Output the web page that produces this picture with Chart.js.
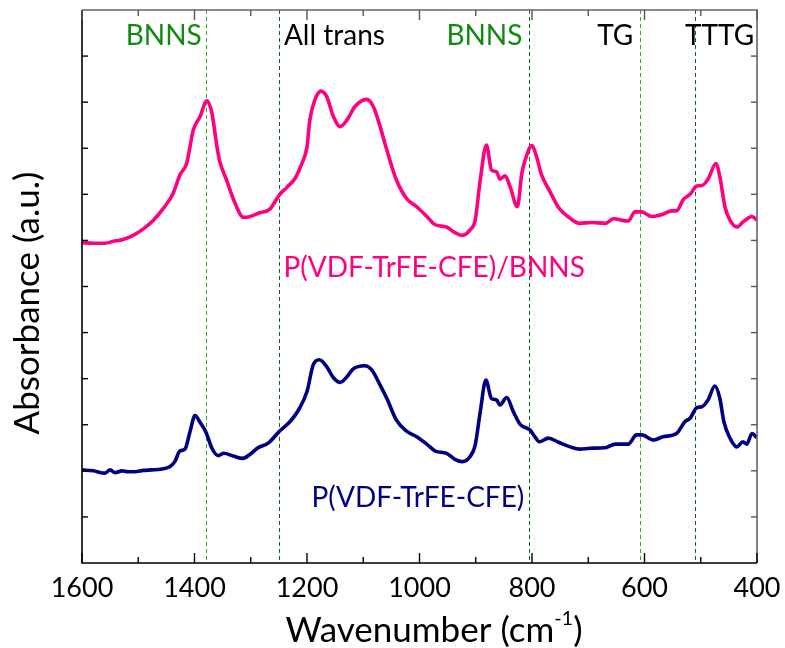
<!DOCTYPE html>
<html><head><meta charset="utf-8">
<script src="https://cdn.jsdelivr.net/npm/chart.js@4.4.1/dist/chart.umd.min.js"></script>
<style>html,body{margin:0;padding:0;background:#fff}</style>
</head><body>
<canvas id="c" width="785" height="648"></canvas>
<script>
// ---- data ----
const wavenumberComposite = [1600,1580,1559,1544,1527,1509,1491,1473,1455,1438,1426,1414,1402,1390,1378,1369,1360,1355,1343,1328,1313,1301,1284,1266,1249,1236,1221,1209,1200,1195,1186,1175,1165,1153,1141,1129,1115,1094,1082,1070,1058,1041,1023,1005,987,972,952,937,925,910,901,892,881,872,863,857,848,839,826,818,812,800,792,783,768,753,732,715,694,670,655,629,617,605,587,567,552,543,531,519,507,498,487,473,466,457,448,436,424,409,400];
const absorbanceComposite = [6.95,6.94,6.94,6.98,7.02,7.11,7.25,7.44,7.70,8.02,8.42,8.67,9.40,9.69,10.03,9.76,9.03,8.71,8.31,7.81,7.50,7.52,7.60,7.68,7.99,8.15,8.35,8.67,9.03,9.61,10.05,10.24,10.12,9.69,9.47,9.61,9.90,10.06,9.90,9.47,8.96,8.31,7.91,7.73,7.52,7.34,7.29,7.17,7.11,7.23,7.44,8.31,9.07,8.53,8.49,8.33,8.40,8.17,7.73,8.46,8.75,9.06,8.82,8.42,8.06,7.72,7.48,7.37,7.39,7.37,7.47,7.42,7.62,7.62,7.52,7.57,7.64,7.64,7.89,8.00,8.18,8.19,8.33,8.67,8.38,7.73,7.44,7.29,7.41,7.52,7.44];
const wavenumberPolymer = [1600,1580,1559,1550,1541,1529,1518,1506,1491,1476,1458,1444,1435,1426,1417,1408,1399,1390,1380,1369,1358,1348,1331,1314,1301,1287,1269,1249,1230,1215,1200,1189,1178,1165,1153,1141,1129,1118,1097,1085,1070,1058,1041,1023,1005,987,972,952,937,924,910,901,892,882,872,863,857,845,833,821,804,795,787,771,753,732,715,697,670,652,629,614,605,584,567,543,528,519,507,498,487,475,466,459,448,436,425,418,409,400];
const absorbancePolymer = [2.02,2.00,1.95,2.02,1.96,2.00,1.98,1.98,2.01,2.02,2.04,2.09,2.20,2.43,2.47,2.85,3.20,3.05,2.85,2.49,2.33,2.38,2.32,2.27,2.36,2.50,2.60,2.86,3.07,3.32,3.72,4.30,4.41,4.26,4.02,3.92,4.04,4.21,4.28,4.19,3.86,3.57,3.10,2.86,2.74,2.58,2.43,2.38,2.25,2.20,2.31,2.56,3.28,3.97,3.57,3.54,3.43,3.59,3.28,3.01,2.89,2.74,2.63,2.71,2.62,2.52,2.47,2.49,2.50,2.58,2.58,2.78,2.78,2.67,2.74,2.81,3.07,3.14,3.37,3.39,3.54,3.84,3.57,3.07,2.71,2.52,2.63,2.58,2.81,2.72];
const seriesNames = ['P(VDF-TrFE-CFE)/BNNS', 'P(VDF-TrFE-CFE)'];
const xTickValues = [1600, 1400, 1200, 1000, 800, 600, 400];
const markerWavenumbers = [1378, 1249, 805, 608, 509];
const markerLabels = ['BNNS', 'All trans', 'BNNS', 'TG', 'TTTG'];
const axisTitles = ['Wavenumber (cm', '-1', ')', 'Absorbance (a.u.)'];

// ---- styles ----
const FONT = "Lato, 'DejaVu Sans', sans-serif";
const markerLineColors = ['#33a833', '#136613', '#136613', '#33a833', '#136613'];
const markerTextColors = ['#118a11', '#000000', '#118a11', '#000000', '#000000'];
// label anchor: [wavenumber, align]
const markerTextAnchor = [[1387,'right'],[1241,'left'],[817,'right'],[620,'right'],[528,'left']];

const decor = {
  id: 'decor',
  beforeDatasetsDraw(chart) {
    const {ctx, chartArea: a, scales: {x}} = chart;
    ctx.save();
    ctx.lineWidth = 1;
    ctx.setLineDash([4, 3]);
    markerWavenumbers.forEach((w, i) => {
      const px = Math.floor(x.getPixelForValue(w)) + 0.5;
      ctx.strokeStyle = markerLineColors[i];
      ctx.beginPath(); ctx.moveTo(px, a.top); ctx.lineTo(px, a.bottom); ctx.stroke();
    });
    ctx.restore();
  },
  afterDraw(chart) {
    const {ctx, chartArea: a, scales: {x, y}} = chart;
    ctx.save();
    // frame
    ctx.lineWidth = 1.6;
    ctx.strokeStyle = '#666';
    ctx.beginPath(); ctx.moveTo(a.left, a.top); ctx.lineTo(a.right, a.top); ctx.lineTo(a.right, a.bottom); ctx.stroke();
    ctx.strokeStyle = '#000';
    ctx.beginPath(); ctx.moveTo(a.left, a.top); ctx.lineTo(a.left, a.bottom); ctx.lineTo(a.right, a.bottom); ctx.stroke();
    // x ticks (inward, top and bottom)
    ctx.lineWidth = 1.4;
    for (let w = 400; w <= 1600; w += 100) {
      const px = x.getPixelForValue(w);
      const len = (w % 200 === 0) ? 10 : 6;
      ctx.strokeStyle = '#000';
      ctx.beginPath(); ctx.moveTo(px, a.bottom); ctx.lineTo(px, a.bottom - len); ctx.stroke();
      ctx.strokeStyle = '#555';
      ctx.beginPath(); ctx.moveTo(px, a.top); ctx.lineTo(px, a.top + len); ctx.stroke();
    }
    // y ticks
    for (let v = 1; v < 12; v++) {
      const py = y.getPixelForValue(v);
      ctx.strokeStyle = '#000';
      ctx.beginPath(); ctx.moveTo(a.left, py); ctx.lineTo(a.left + 6, py); ctx.stroke();
      ctx.strokeStyle = '#555';
      ctx.beginPath(); ctx.moveTo(a.right, py); ctx.lineTo(a.right - 6, py); ctx.stroke();
    }
    // marker labels
    ctx.font = '28px ' + FONT;
    ctx.textBaseline = 'alphabetic';
    const labelY = y.getPixelForValue(11.23);
    markerLabels.forEach((t, i) => {
      ctx.fillStyle = markerTextColors[i];
      ctx.textAlign = markerTextAnchor[i][1];
      ctx.fillText(t, x.getPixelForValue(markerTextAnchor[i][0]), labelY);
    });
    // series labels
    ctx.textAlign = 'left';
    ctx.fillStyle = '#ff0080';
    ctx.fillText(seriesNames[0], x.getPixelForValue(1242), y.getPixelForValue(6.21));
    ctx.fillStyle = '#000080';
    ctx.fillText(seriesNames[1], x.getPixelForValue(1192), y.getPixelForValue(1.22));
    // x title with superscript
    ctx.fillStyle = '#000';
    ctx.font = '35px ' + FONT;
    const w1 = ctx.measureText(axisTitles[0]).width;
    ctx.font = '20px ' + FONT;
    const w2 = ctx.measureText(axisTitles[1]).width;
    ctx.font = '35px ' + FONT;
    const w3 = ctx.measureText(axisTitles[2]).width;
    const total = w1 + w2 + w3;
    let sx = 434 - total / 2;
    const by = 642;
    ctx.textAlign = 'left';
    ctx.fillText(axisTitles[0], sx, by);
    ctx.font = '20px ' + FONT;
    ctx.fillText(axisTitles[1], sx + w1, by - 17);
    ctx.font = '35px ' + FONT;
    ctx.fillText(axisTitles[2], sx + w1 + w2, by);
    // y title
    ctx.translate(28, 303);
    ctx.rotate(-Math.PI / 2);
    ctx.textAlign = 'center';
    ctx.textBaseline = 'middle';
    ctx.font = '35px ' + FONT;
    ctx.fillText(axisTitles[3], 0, 0);
    ctx.restore();
  }
};

new Chart(document.getElementById('c'), {
  type: 'line',
  data: {
    datasets: [
      {
        label: seriesNames[0],
        data: wavenumberComposite.map((w, i) => ({x: w, y: absorbanceComposite[i]})),
        borderColor: '#ff0080', borderWidth: 3.6, pointRadius: 0,
        cubicInterpolationMode: 'monotone', fill: false
      },
      {
        label: seriesNames[1],
        data: wavenumberPolymer.map((w, i) => ({x: w, y: absorbancePolymer[i]})),
        borderColor: '#000080', borderWidth: 3.6, pointRadius: 0,
        cubicInterpolationMode: 'monotone', fill: false
      }
    ]
  },
  options: {
    responsive: false,
    animation: false,
    devicePixelRatio: 1,
    layout: {padding: {top: 10, right: 28, left: 0, bottom: 0}},
    plugins: {legend: {display: false}, tooltip: {enabled: false}},
    scales: {
      x: {
        type: 'linear', reverse: true, min: 400, max: 1600,
        afterBuildTicks: s => { s.ticks = xTickValues.map(v => ({value: v})); },
        afterFit: s => { s.height = 85; s.paddingLeft = 0; s.paddingRight = 0; },
        grid: {display: false, drawTicks: false},
        border: {display: false},
        ticks: {padding: 9, color: '#000', font: {family: FONT, size: 27}, maxRotation: 0, autoSkip: false,
                callback: v => String(v)},
        title: {display: false}
      },
      y: {
        min: 0, max: 12,
        afterFit: s => { s.width = 82; s.paddingTop = 0; s.paddingBottom = 0; },
        grid: {display: false, drawTicks: false},
        border: {display: false},
        ticks: {display: false, stepSize: 1}
      }
    }
  },
  plugins: [decor]
});
</script>
</body></html>
